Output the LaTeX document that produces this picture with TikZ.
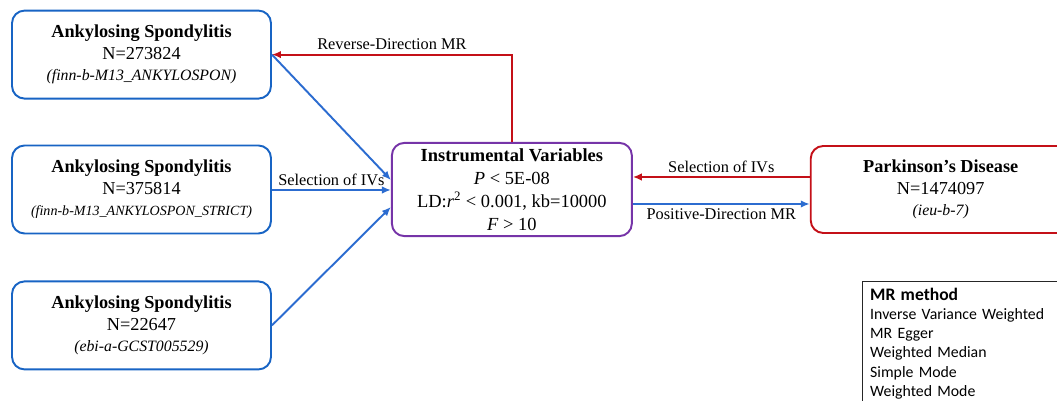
\documentclass[tikz,border=0pt]{standalone}
\usepackage{fontspec}
\setmainfont{Liberation Serif}
\newfontfamily\calibrifont{Carlito}
\usetikzlibrary{positioning,calc}
\usetikzlibrary{arrows.meta}
\definecolor{asblue}{RGB}{24,100,196}
\definecolor{arrblue}{RGB}{44,108,208}
\definecolor{pdred}{RGB}{196,16,24}
\definecolor{ivpurple}{RGB}{118,52,168}

\begin{document}
\begin{tikzpicture}[x=0.02cm,y=-0.02cm,
      box/.style={line width=1.1pt, rounded corners=0.25cm, align=center,
                  font=\fontsize{10.4}{12.3}\selectfont},
      asbox/.style={box, draw=asblue, minimum width=5.18cm, minimum height=1.76cm},
      ivbox/.style={box, draw=ivpurple, minimum width=4.8cm, minimum height=1.82cm,
                  font=\fontsize{10.5}{13}\selectfont},
      pdbox/.style={box, draw=pdred, minimum width=5.2cm, minimum height=1.74cm},
      tip/.style={-{Latex[length=1.8mm,width=1.5mm]}},
      bluearrow/.style={tip, draw=arrblue, line width=1.1pt},
      redarrow/.style={tip, draw=pdred, line width=1.1pt},
      lbl/.style={font=\fontsize{9.3}{11}\selectfont, inner sep=2pt}]
   \useasboundingbox (0,0) rectangle (1057,401);
   \clip (0,0) rectangle (1057,401);

   % exposure / outcome boxes
   \node[asbox] (as2) at (141.5,189.5)
      {\textbf{Ankylosing Spondylitis}\\N=375814\\{\fontsize{8}{12}\selectfont\textit{(finn-b-M13\_ANKYLOSPON\_STRICT)}}};
   \node[asbox, above=0.9cm of as2] (as1)
      {\textbf{Ankylosing Spondylitis}\\N=273824\\{\fontsize{9}{12}\selectfont\textit{(finn-b-M13\_ANKYLOSPON)}}};
   \node[asbox, below=0.92cm of as2] (as3)
      {\textbf{Ankylosing Spondylitis}\\N=22647\\{\fontsize{9}{12}\selectfont\textit{(ebi-a-GCST005529)}}};

   \node[ivbox, right=2.38cm of as2] (iv)
      {\textbf{Instrumental Variables}\\\textit{P} < 5E-08\\LD:\textit{r}\textsuperscript{2} < 0.001, kb=10000\\\textit{F} > 10};
   \node[pdbox, right=3.54cm of iv] (pd)
      {\textbf{Parkinson’s Disease}\\N=1474097\\{\fontsize{9}{12}\selectfont\textit{(ieu-b-7)}}};

   % legend
   \node[draw=black!85, line width=0.8pt, anchor=north west, align=left,
         minimum width=4.6cm, minimum height=2.8cm, inner xsep=2pt, inner ysep=3pt,
         text width=4.3cm, font=\calibrifont\fontsize{9}{10.9}\selectfont]
         (mr) at (862,281)
      {{\fontsize{10}{11}\selectfont\bfseries MR method}\\Inverse Variance Weighted\\MR Egger\\Weighted Median\\Simple Mode\\Weighted Mode\\\mbox{}};

   % connectors
   \draw[bluearrow] (as1.east) -- ([yshift=0.19cm]iv.west);
   \draw[bluearrow] ([yshift=-0.01cm]as2.east) -- ([yshift=-0.01cm]as2.east -| iv.west)
      node[lbl, midway, above] {Selection of IVs};
   \draw[bluearrow] (as3.east) -- ([yshift=-0.35cm]iv.west);
   \draw[redarrow] (iv.north) |- (as1.east)
      node[lbl, pos=0.75, above] {Reverse-Direction MR};
   \draw[redarrow] ([yshift=0.25cm]pd.west) -- ([yshift=0.25cm]pd.west -| iv.east)
      node[lbl, midway, above] {Selection of IVs};
   \draw[bluearrow] ([yshift=-0.29cm]iv.east) -- ([yshift=-0.29cm]iv.east -| pd.west)
      node[lbl, midway, below] {Positive-Direction MR};
\end{tikzpicture}
\end{document}
